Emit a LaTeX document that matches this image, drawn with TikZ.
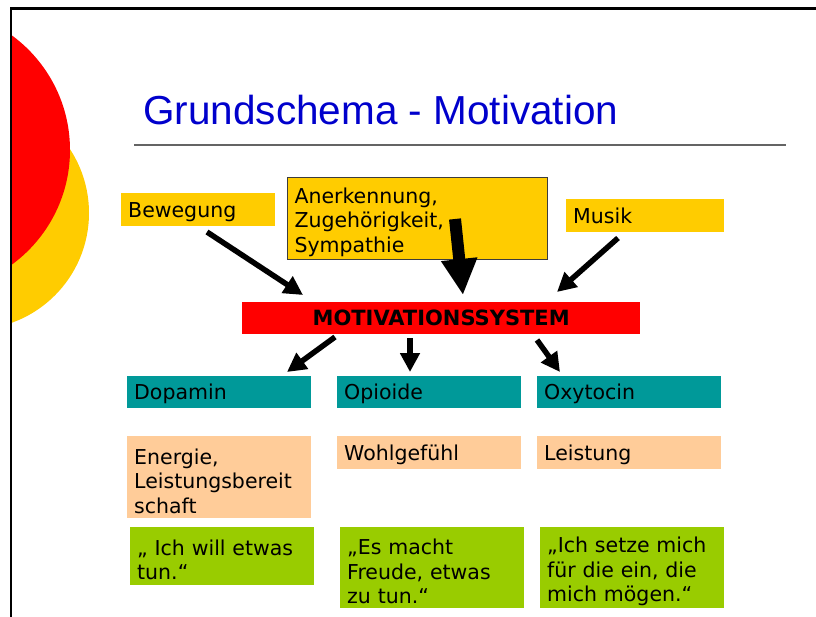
\documentclass[tikz,border=0pt]{standalone}
\usepackage{fontspec}
\setmainfont{DejaVu Sans}
\newfontfamily\titlefont{Liberation Sans}
\usetikzlibrary{arrows.meta}
\definecolor{cyell}{RGB}{255,204,0}
\definecolor{cred}{RGB}{255,0,0}
\definecolor{cteal}{RGB}{0,153,153}
\definecolor{cpeach}{RGB}{255,204,153}
\definecolor{cgreen}{RGB}{153,204,0}
\definecolor{ctitle}{RGB}{0,0,204}
\definecolor{crule}{RGB}{100,100,100}
\definecolor{cframe}{RGB}{60,60,60}
\newcommand{\firstup}{\rule{0pt}{23pt}}
\begin{document}
\begin{tikzpicture}[x=1pt,y=-1pt,
  box/.style={rectangle, anchor=north west, inner xsep=7pt, inner ysep=0pt,
    align=left, font=\fontsize{20.5}{24.5}\selectfont, text=black},
  one/.style={box, text depth=0pt},
  arr/.style={line width=5.5pt, -{Triangle[length=19pt,width=19pt]}},
  bigarr/.style={line width=12pt, -{Triangle[length=36pt,width=34pt]}}]
\useasboundingbox (0,0) rectangle (816,617);
% decorative circles
\begin{scope}
  \clip (11,8) rectangle (816,617);
  \fill[cyell] (-27.6,213) circle (116.6pt);
  \fill[cred] (-72,150) circle (142pt);
\end{scope}
% slide frame
\draw[line width=2.5pt] (10,8.5) -- (816,8.5);
\draw[line width=2.5pt] (11,8) -- (11,617);
% title
\node[anchor=base west, inner sep=0pt, font=\titlefont\fontsize{40.5}{48}\selectfont, text=ctitle] (title) at (143,125) {Grundschema - Motivation};
\draw[line width=1.5pt, crule] (134,145) -- (786,145);
% top boxes
\node[one, fill=cyell, text width=140pt, minimum height=33pt] (bew) at (121,193) {Bewegung};
\node[box, fill=cyell, draw=cframe, line width=1pt, text width=246pt, minimum height=82pt] (ane) at (287,177) {\firstup Anerkennung,\\Zugehörigkeit,\\Sympathie};
\node[one, fill=cyell, text width=144pt, minimum height=33pt] (mus) at (566,199) {Musik};
% central box
\node[one, fill=cred, text width=384pt, minimum height=32pt, align=center, font=\fontsize{21}{24.5}\selectfont\bfseries] (mot) at (242,302) {MOTIVATIONSSYSTEM};
% hormone boxes
\node[one, fill=cteal, text width=170pt, minimum height=32pt] (dop) at (127,376) {Dopamin};
\node[one, fill=cteal, text width=170pt, minimum height=32pt] (opi) at (337,376) {Opioide};
\node[one, fill=cteal, text width=170pt, minimum height=32pt] (oxy) at (537,376) {Oxytocin};
% effect boxes
\node[box, fill=cpeach, text width=170pt, minimum height=82pt] (ene) at (127,436) {\firstup Energie,\\Leistungsbereit\\schaft};
\node[one, fill=cpeach, text width=170pt, minimum height=33pt] (woh) at (337,436) {Wohlgefühl};
\node[one, fill=cpeach, text width=170pt, minimum height=33pt] (lei) at (537,436) {Leistung};
% quote boxes
\node[box, fill=cgreen, text width=170pt, minimum height=58pt] (q1) at (130,527) {\firstup„ Ich will etwas\\tun.“};
\node[box, fill=cgreen, text width=170pt, minimum height=81pt] (q2) at (340,527) {\firstup„Es macht\\Freude, etwas\\zu tun.“};
\node[box, fill=cgreen, text width=170pt, minimum height=81pt] (q3) at (540,527) {\firstup„Ich setze mich\\für die ein, die\\mich mögen.“};
% arrow end points
\coordinate (a1s) at (207,232);
\coordinate (a1e) at (303,295);
\coordinate (a2s) at (455,219);
\coordinate (a2e) at (463,295);
\coordinate (a3s) at (618,238);
\coordinate (a3e) at (557,292);
\coordinate (d1s) at (335,337);
\coordinate (d1e) at (287,372);
\coordinate (d2s) at (410,338);
\coordinate (d2e) at (410,372);
\coordinate (d3s) at (537,340);
\coordinate (d3e) at (560,372);
% arrows
\draw[arr] (a1s) -- (a1e);
\draw[bigarr] (a2s) -- (a2e);
\draw[arr] (a3s) -- (a3e);
\draw[arr] (d1s) -- (d1e);
\draw[arr] (d2s) -- (d2e);
\draw[arr] (d3s) -- (d3e);
\end{tikzpicture}
\end{document}
